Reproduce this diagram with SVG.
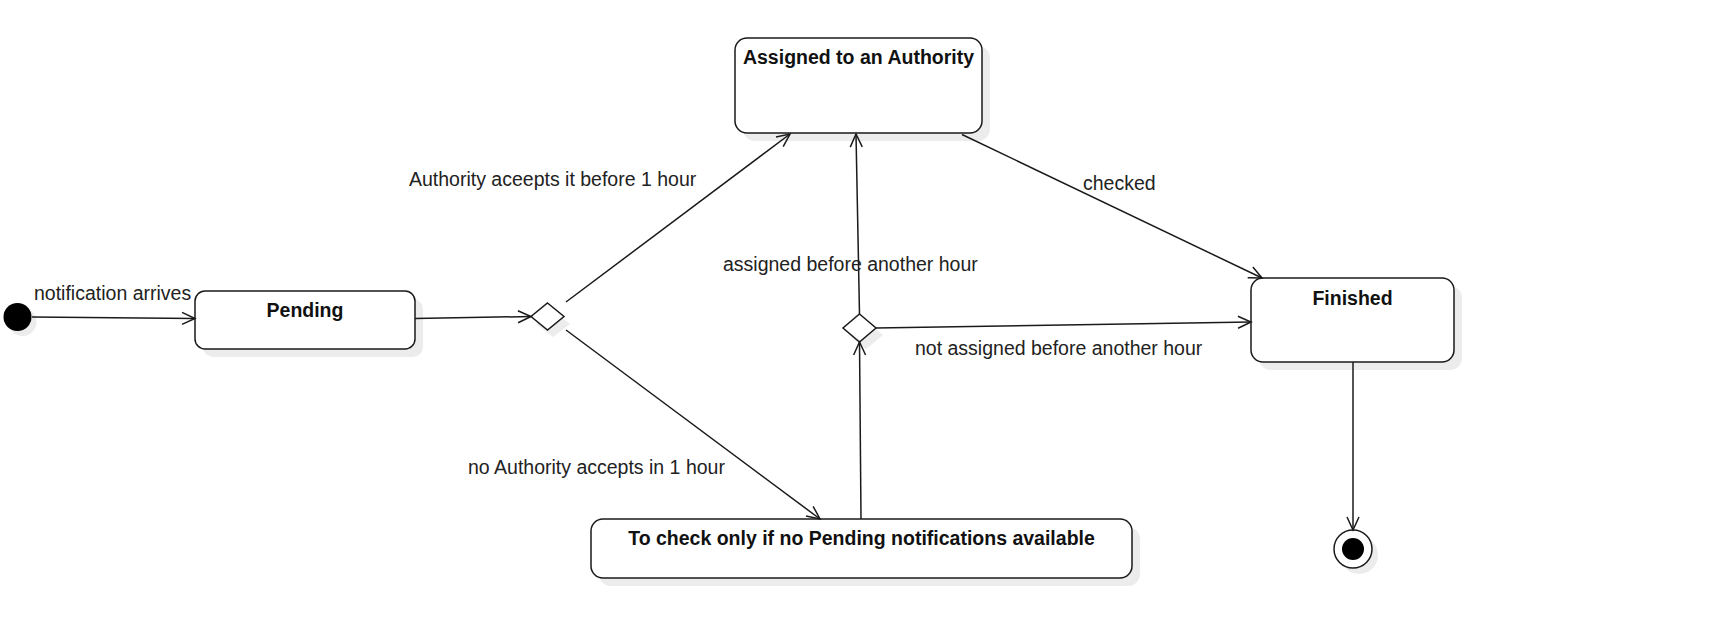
<svg xmlns="http://www.w3.org/2000/svg" width="1714" height="637" viewBox="0 0 1714 637">
<defs>
<style>
.node{fill:#ffffff;stroke:#1a1a1a;stroke-width:1.5}
.shadow{fill:#ececec;stroke:none}
.title{font-family:"Liberation Sans",Arial,sans-serif;font-size:19.5px;font-weight:bold;fill:#111;text-anchor:middle}
.lbl{font-family:"Liberation Sans",Arial,sans-serif;font-size:19.5px;fill:#222}
.edge{fill:none;stroke:#1a1a1a;stroke-width:1.5;marker-end:url(#arr)}
</style>
<marker id="arr" markerUnits="userSpaceOnUse" markerWidth="16" markerHeight="14" refX="14" refY="7" orient="auto" viewBox="0 0 16 14">
<path d="M1,1 L14,7 L1,13" fill="none" stroke="#1a1a1a" stroke-width="1.5"/>
</marker>
</defs>
<rect width="1714" height="637" fill="#ffffff"/>

<g id="initial">
<circle class="shadow" cx="22.5" cy="322" r="14"/>
<circle cx="17.5" cy="317" r="14" fill="#000"/>
</g>

<g id="pending">
<rect class="shadow" x="203" y="299" width="220" height="58" rx="10"/>
<rect class="node" x="195" y="291" width="220" height="58" rx="10"/>
<text class="title" x="305" y="317">Pending</text>
</g>

<g id="choice1">
<polygon class="shadow" points="553,311 570,324 553,337 536,324"/>
<polygon class="node" points="547.5,303 564,316.5 547.5,330 531,316.5"/>
</g>

<g id="assigned">
<rect class="shadow" x="743" y="46" width="247" height="95" rx="12"/>
<rect class="node" x="735" y="38" width="247" height="95" rx="12"/>
<text class="title" x="858.5" y="64">Assigned to an Authority</text>
</g>

<g id="choice2">
<polygon class="shadow" points="866,321 883,335 866,349 849,335"/>
<polygon class="node" points="859.5,314 876,328 859.5,342 843,328"/>
</g>

<g id="finished">
<rect class="shadow" x="1259" y="286" width="203" height="84" rx="12"/>
<rect class="node" x="1251" y="278" width="203" height="84" rx="12"/>
<text class="title" x="1352.5" y="305">Finished</text>
</g>

<g id="tocheck">
<rect class="shadow" x="599" y="527" width="541" height="59" rx="12"/>
<rect class="node" x="591" y="519" width="541" height="59" rx="12"/>
<text class="title" x="861.5" y="545">To check only if no Pending notifications available</text>
</g>

<g id="final">
<circle class="shadow" cx="1359" cy="555" r="19"/>
<circle cx="1353" cy="549" r="19" fill="#fff" stroke="#1a1a1a" stroke-width="1.5"/>
<circle cx="1353" cy="549" r="11" fill="#000"/>
</g>

<g id="connectors">
<line class="edge" x1="32" y1="317" x2="195" y2="318.5"/>
<line class="edge" x1="415" y1="318.5" x2="531" y2="316.5"/>
<line class="edge" x1="566" y1="302" x2="790" y2="134"/>
<line class="edge" x1="566" y1="330" x2="820" y2="519"/>
<line class="edge" x1="861" y1="519" x2="859.5" y2="342"/>
<line class="edge" x1="859.5" y1="314" x2="856" y2="134"/>
<line class="edge" x1="876" y1="328" x2="1251" y2="322"/>
<line class="edge" x1="962" y1="134.5" x2="1262" y2="278"/>
<line class="edge" x1="1353" y1="362" x2="1353" y2="530"/>
</g>

<g id="labels">
<text class="lbl" x="34" y="300">notification arrives</text>
<text class="lbl" x="409" y="186">Authority aceepts it before 1 hour</text>
<text class="lbl" x="723" y="271">assigned before another hour</text>
<text class="lbl" x="1083" y="190">checked</text>
<text class="lbl" x="915" y="355">not assigned before another hour</text>
<text class="lbl" x="468" y="474">no Authority accepts in 1 hour</text>
</g>
</svg>
